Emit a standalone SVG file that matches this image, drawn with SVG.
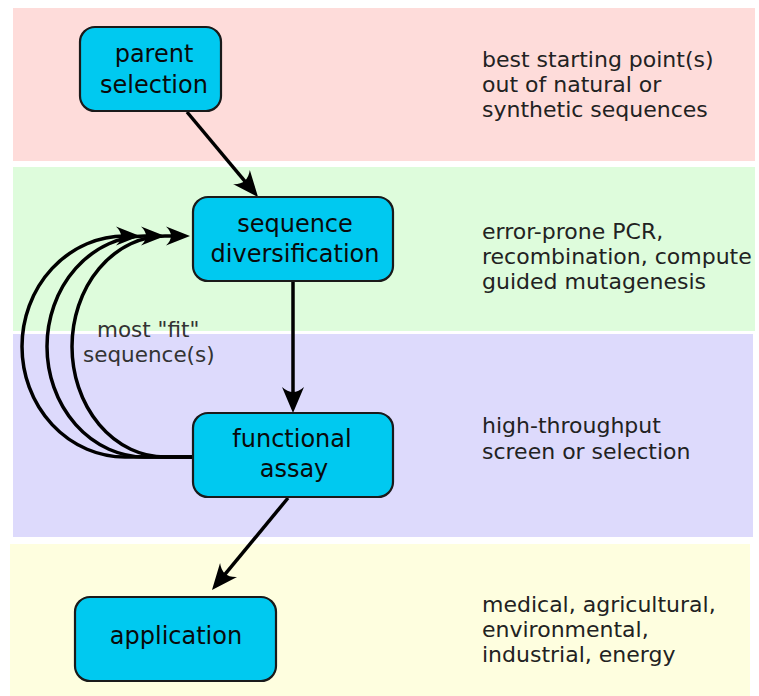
<svg xmlns="http://www.w3.org/2000/svg" width="759" height="696" viewBox="0 0 759 696">
  <style>
    .band { stroke: none; }
    .node rect { fill: #00c9f0; stroke: #1a1a1a; stroke-width: 2.2; }
    .node text { font-family: "DejaVu Sans", "Liberation Sans", sans-serif; font-size: 24px; fill: #0a0a0a; text-anchor: middle; }
    .note { font-family: "DejaVu Sans", "Liberation Sans", sans-serif; font-size: 22px; fill: #222; }
    .loop-label { font-family: "DejaVu Sans", "Liberation Sans", sans-serif; font-size: 21.5px; fill: #333; }
    .edge { fill: none; stroke: #000; stroke-width: 3.5; }
    .loop { fill: none; stroke: #000; stroke-width: 3.5; }
  </style>
  <defs>
    <marker id="arrow" markerUnits="userSpaceOnUse" viewBox="-25 -15 35 30" markerWidth="35" markerHeight="30" refX="0" refY="0" orient="auto" overflow="visible">
      <path d="M6,0 L-20,-11 Q-10,0 -20,11 Z" fill="#000"/>
    </marker>
    <marker id="arrow-sm" markerUnits="userSpaceOnUse" viewBox="-25 -15 35 30" markerWidth="35" markerHeight="30" refX="0" refY="0" orient="auto" overflow="visible">
      <path d="M5,0 L-19,-9.5 Q-9,0 -19,9.5 Z" fill="#000"/>
    </marker>
  </defs>

  <rect width="759" height="696" fill="#ffffff"/>

  <!-- stage bands -->
  <g id="bands">
    <rect class="band" x="13" y="8" width="742" height="153" fill="#fedcda"/>
    <rect class="band" x="13" y="167" width="742" height="164" fill="#defcdc"/>
    <rect class="band" x="13" y="334" width="740" height="203" fill="#dddafc"/>
    <rect class="band" x="10" y="544" width="740" height="152" fill="#fefedf"/>
  </g>

  <!-- stage descriptions -->
  <g id="notes">
    <text class="note" x="482" y="67">best starting point(s)</text>
    <text class="note" x="482" y="92">out of natural or</text>
    <text class="note" x="482" y="117">synthetic sequences</text>

    <text class="note" x="482" y="239">error-prone PCR,</text>
    <text class="note" x="482" y="264">recombination, compute</text>
    <text class="note" x="482" y="289">guided mutagenesis</text>

    <text class="note" x="482" y="433">high-throughput</text>
    <text class="note" x="482" y="459">screen or selection</text>

    <text class="note" x="482" y="612">medical, agricultural,</text>
    <text class="note" x="482" y="637">environmental,</text>
    <text class="note" x="482" y="662">industrial, energy</text>
  </g>

  <!-- connectors -->
  <g id="connectors">
    <path class="edge" d="M187,112 L254.2,192.4" marker-end="url(#arrow)"/>
    <path class="edge" d="M293,281 L293,407" marker-end="url(#arrow)"/>
    <path class="edge" d="M288,498 L215.8,585.4" marker-end="url(#arrow)"/>

    <!-- feedback loops from assay back to diversification -->
    <path class="loop" d="M193,457 H125 A103,110.5 0 0 1 125,236 H135" marker-end="url(#arrow-sm)"/>
    <path class="loop" d="M193,457 H145 A98,110.5 0 0 1 145,236 H160" marker-end="url(#arrow-sm)"/>
    <path class="loop" d="M193,457 H165 A93,110.5 0 0 1 165,236 H185" marker-end="url(#arrow-sm)"/>

    <text class="loop-label" x="97" y="337">most "fit"</text>
    <text class="loop-label" x="83" y="362">sequence(s)</text>
  </g>

  <!-- process steps -->
  <g id="parent-selection" class="node">
    <rect x="80" y="27" width="141" height="84" rx="15"/>
    <text x="154" y="62">parent</text>
    <text x="154" y="93">selection</text>
  </g>

  <g id="sequence-diversification" class="node">
    <rect x="193" y="197" width="200" height="84" rx="15"/>
    <text x="295" y="232">sequence</text>
    <text x="295" y="262">diversification</text>
  </g>

  <g id="functional-assay" class="node">
    <rect x="193" y="413" width="200" height="84" rx="15"/>
    <text x="292" y="447">functional</text>
    <text x="294" y="477">assay</text>
  </g>

  <g id="application" class="node">
    <rect x="75" y="597" width="201" height="84" rx="15"/>
    <text x="176" y="644">application</text>
  </g>
</svg>
